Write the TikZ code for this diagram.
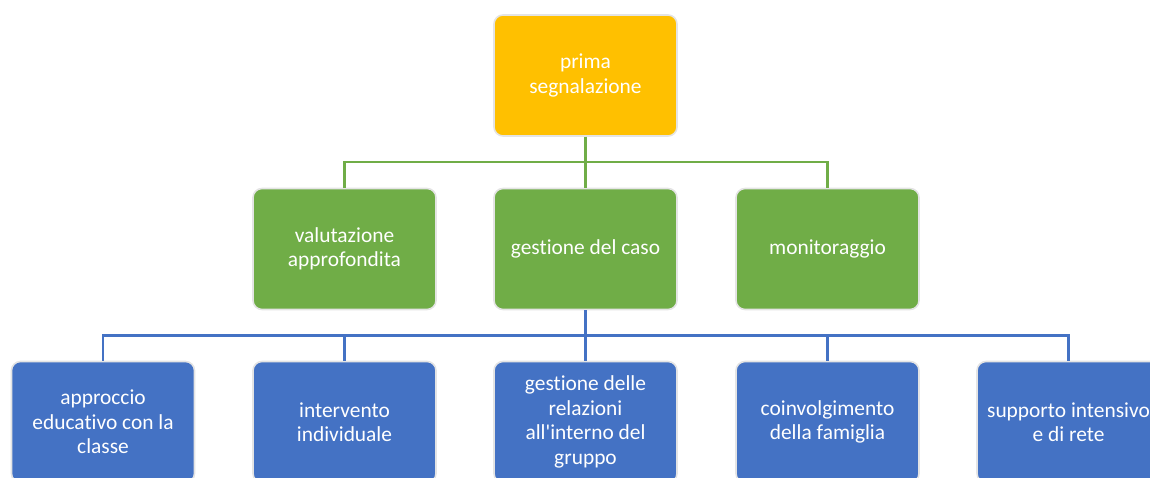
\documentclass[tikz,border=0pt]{standalone}
\usepackage{fontspec}
\setmainfont{Carlito}[Ligatures={TeXOff,NoCommon}]
\usetikzlibrary{calc}
\definecolor{boxyellow}{HTML}{FFC000}
\definecolor{boxgreen}{HTML}{70AD47}
\definecolor{boxblue}{HTML}{4472C4}
\definecolor{boxrim}{HTML}{E4E4E4}
\begin{document}
\begin{tikzpicture}
[x=1pt,y=1pt,
  boxdecorate/.style={shape=rectangle,rounded corners=9pt,draw=boxrim,line width=1.6pt,
    minimum width=183pt,minimum height=121pt,inner sep=0pt,align=center,
    text=white,font=\fontsize{21.4}{24.5}\selectfont},%
  yellowbox/.style={boxdecorate,fill=boxyellow},%
  greenbox/.style={boxdecorate,fill=boxgreen},%
  bluebox/.style={boxdecorate,fill=boxblue},%
  elbow/.style={to path={|- ($(\tikztostart)!0.5!(\tikztotarget)$) -| (\tikztotarget)}},%
  greenline/.style={-,line width=2.4pt,draw=boxgreen,elbow},%
  blueline/.style={-,line width=2.4pt,draw=boxblue,elbow}]
\useasboundingbox (0,0) rectangle (1150,478);
\clip (0,0) rectangle (1150,478);
%% nodes or vertices
\node (prima) at (585.5,402.5) [yellowbox] {prima\\segnalazione};
\foreach \nodename/\x/\label in {valutazione/344.5/{valutazione\\approfondita},
  gestione/585.5/{gestione del caso}, monitoraggio/827.5/{monitoraggio}} {
  \node (\nodename) at (\x,229) [greenbox] {\label};
}
\foreach \nodename/\x/\label in {approccio/103/{approccio\\educativo con la\\classe},
  intervento/344.5/{intervento\\individuale},
  relazioni/585.5/{gestione delle\\relazioni\\all'interno del\\gruppo},
  famiglia/827.5/{coinvolgimento\\della famiglia},
  supporto/1068.5/{supporto intensivo\\e di rete}} {
  \node (\nodename) at (\x,56) [bluebox] {\label};
}
%% edges or lines
\path
\foreach \endnode in {valutazione, gestione, monitoraggio} {
  (prima.south) edge[greenline] (\endnode.north)
};
\path
\foreach \endnode in {approccio, intervento, relazioni, famiglia, supporto} {
  (gestione.south) edge[blueline] (\endnode.north)
};
\end{tikzpicture}
\end{document}
